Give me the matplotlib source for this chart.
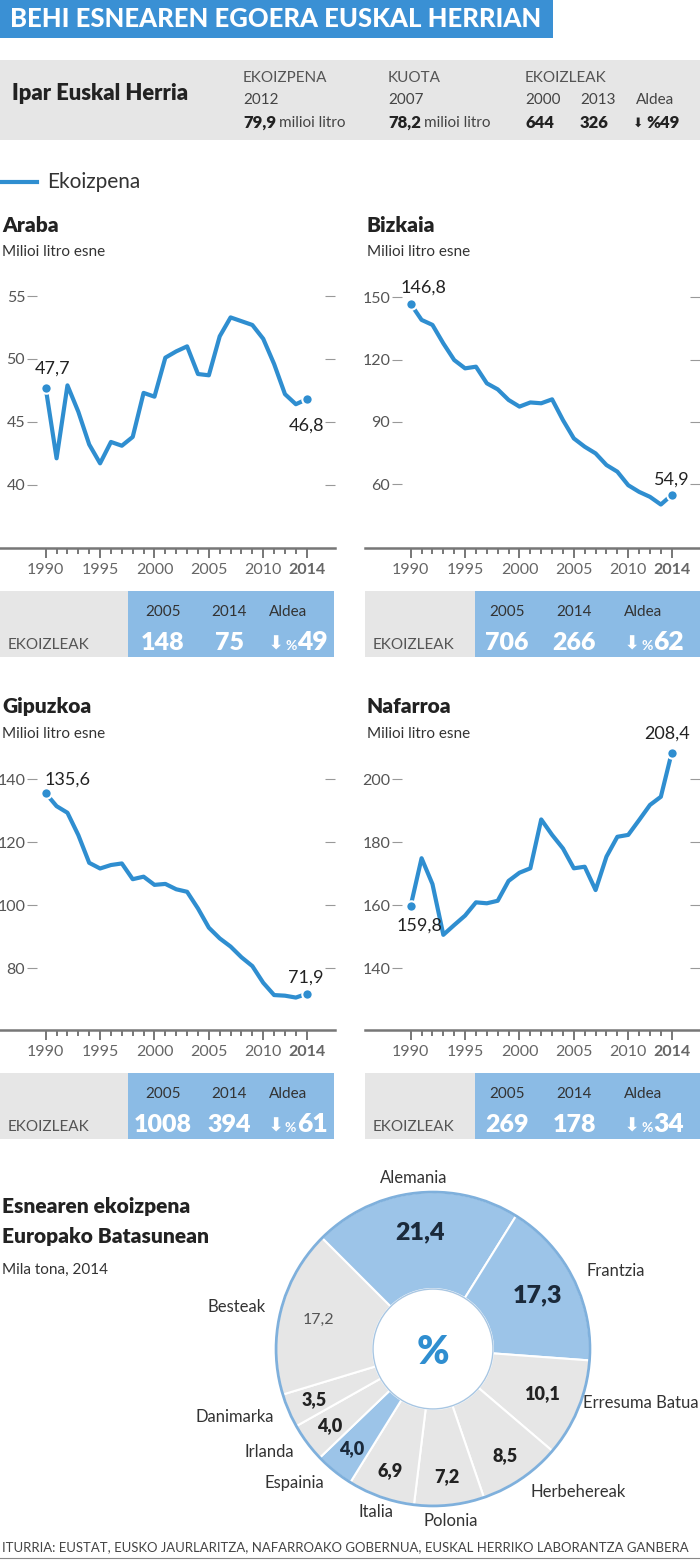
import matplotlib
matplotlib.use("Agg")
import numpy as np
import matplotlib.pyplot as plt
from matplotlib.patches import Rectangle, Circle
from matplotlib.lines import Line2D

plt.rcParams['font.family'] = ['Lato', 'DejaVu Sans']

# ---- data ----
years = list(range(1990, 2015))
araba = [47.7, 42.1, 47.9, 45.8, 43.2, 41.7, 43.4, 43.1, 43.8, 47.3, 47.0, 50.1, 50.6,
         51.0, 48.8, 48.7, 51.8, 53.3, 53.0, 52.7, 51.6, 49.6, 47.2, 46.4, 46.8]
bizkaia = [146.8, 139.1, 136.7, 127.8, 119.8, 115.8, 116.6, 108.6, 105.7, 100.6, 97.4, 99.4,
           99.0, 100.9, 90.9, 82.1, 78.1, 74.9, 69.3, 66.1, 59.6, 56.4, 54.0, 50.3, 54.9]
gipuzkoa = [135.6, 131.5, 129.4, 122.3, 113.5, 111.7, 112.8, 113.3, 108.3, 109.1, 106.5, 106.8,
            105.1, 104.3, 99.0, 92.9, 89.5, 86.9, 83.5, 80.7, 75.4, 71.5, 71.3, 70.7, 71.9]
nafarroa = [159.8, 174.9, 166.7, 150.6, 153.7, 156.7, 160.9, 160.6, 161.4, 167.7, 170.3, 171.7,
            187.2, 182.3, 178.0, 171.7, 172.2, 164.8, 175.4, 181.7, 182.3, 187.0, 191.8, 194.4, 208.4]

regions = ["Araba", "Bizkaia", "Gipuzkoa", "Nafarroa"]
yticks = [[40, 45, 50, 55], [60, 90, 120, 150], [80, 100, 120, 140], [140, 160, 180, 200]]
xticks = [1990, 1995, 2000, 2005, 2010, 2014]

farms_2005 = [148, 706, 1008, 269]
farms_2014 = [75, 266, 394, 178]
farms_drop = [49, 62, 61, 34]

# Ipar Euskal Herria
ipar_prod_2012 = 79.9
ipar_quota_2007 = 78.2
ipar_farms = [644, 326]   # 2000, 2013
ipar_drop = 49

countries = ["Alemania", "Frantzia", "Erresuma Batua", "Herbehereak", "Polonia",
             "Italia", "Espainia", "Irlanda", "Danimarka", "Besteak"]
shares = [21.4, 17.3, 10.1, 8.5, 7.2, 6.9, 4.0, 4.0, 3.5, 17.2]
highlight = [True, True, False, False, False, False, True, False, False, False]

BANNER = '#3a90d4'
LINE = '#2f8ed0'
BOX_BLUE = '#8bbbe5'
GRAY = '#e6e6e6'
PIE_BLUE = '#9cc4e8'
NAVY = '#1b2a3b'

W, H = 700, 1560
fig = plt.figure(figsize=(W / 100, H / 100), dpi=100)
R = fig.canvas.get_renderer()


def fx(x):
    return x / W


def fy(y):
    return 1 - y / H


def txt(x, y, s, size=11, color='#333', weight='normal', ha='left', va='center', **kw):
    return fig.text(fx(x), fy(y), s, fontsize=size, color=color, fontweight=weight,
                    ha=ha, va=va, **kw)


def box(x0, y0, x1, y1, color):
    fig.add_artist(Rectangle((fx(x0), fy(y1)), (x1 - x0) / W, (y1 - y0) / H,
                             transform=fig.transFigure, facecolor=color,
                             edgecolor='none', zorder=0))


def ext(t):
    return t.get_window_extent(R)


def fit(t, width):
    t.set_fontsize(t.get_fontsize() * width / ext(t).width)


def comma(v):
    return f"{v:.1f}".replace(".", ",")


# ---- header ----
box(0, 0, 553, 38, BANNER)
t = txt(10, 19, "BEHI ESNEAREN EGOERA EUSKAL HERRIAN", size=20, color='white', weight='black')
fit(t, 530)

box(0, 60, 700, 140, GRAY)
t = txt(12, 93, "Ipar Euskal Herria", size=15, color='#222', weight='heavy')
fit(t, 178)

for x, head, yr, val in [(243, "EKOIZPENA", "2012", ipar_prod_2012),
                         (388, "KUOTA", "2007", ipar_quota_2007)]:
    txt(x, 78, head, size=11, color='#555')
    txt(x, 100, yr, size=11, color='#444')
    v = txt(x, 123, comma(val), size=12, color='#222', weight='heavy')
    txt(ext(v).x1 + 3, 123, "milioi litro", size=11, color='#444')

txt(525, 78, "EKOIZLEAK", size=11, color='#555')
for x, s in [(525, "2000"), (580, "2013"), (636, "Aldea")]:
    txt(x, 100, s, size=11, color='#444')
txt(525, 123, str(ipar_farms[0]), size=12, color='#222', weight='heavy')
txt(580, 123, str(ipar_farms[1]), size=12, color='#222', weight='heavy')
a = txt(633, 123, "⬇", size=9, color='#222', family='DejaVu Sans')
txt(ext(a).x1 + 3, 123, "%" + str(ipar_drop), size=12, color='#222', weight='heavy')

# legend
fig.add_artist(Line2D([0, fx(37)], [fy(182), fy(182)], color=LINE, lw=3,
                      transform=fig.transFigure))
txt(47, 182, "Ekoizpena", size=15, color='#333')

# ---- line panels ----
series = [araba, bizkaia, gipuzkoa, nafarroa]
ylims = [(34.97, 57.07), (29.4, 163.1), (60.4, 148.7), (120.4, 208.6)]
offs = [((5, 14), (0, -19)), ((9, 12), (0, 11)), ((16, 9.5), (-1, 11.5)), ((6.5, -14), (-3, 14))]
col_layout = {0: dict(gray=(0, 128), blue_r=334, cols=(163, 229, 288), drop_r=328),
              365: dict(gray=(365, 475), blue_r=700, cols=(507, 574, 643), drop_r=684)}

for i, name in enumerate(regions):
    x0 = 0 if i % 2 == 0 else 365
    dy = 0 if i < 2 else 482
    vals = series[i]

    txt(x0 + 2, 225 + dy, name, size=15, color='#222', weight='heavy')
    txt(x0 + 2, 252 + dy, "Milioi litro esne", size=11, color='#333')

    ax = fig.add_axes([fx(x0 + 37), fy(548 + dy), 288 / W, 278 / H])
    ax.set_facecolor('none')
    for sp in ax.spines.values():
        sp.set_visible(False)
    ax.plot(years, vals, color=LINE, lw=3, solid_capstyle='butt', zorder=2)
    ax.plot([years[0], years[-1]], [vals[0], vals[-1]], 'o', color=LINE, ms=7.5,
            mec='white', mew=1.5, zorder=3, clip_on=False)
    for (yr, v), off in zip([(years[0], vals[0]), (years[-1], vals[-1])], offs[i]):
        ax.annotate(comma(v), (yr, v), xytext=off, textcoords='offset points',
                    ha='center', va='center', fontsize=13, color='#222')

    ax.set_xlim(1989.2, 2015.68)
    ax.set_ylim(*ylims[i])
    ax.set_yticks(yticks[i], labels=[str(v) for v in yticks[i]])
    ax.set_xticks(xticks, labels=[str(v) for v in xticks])
    ax.set_xticks(years, minor=True)
    ax.get_xticklabels()[-1].set_fontweight('bold')
    ax.get_xticklabels()[-1].set_color('#444')
    ax.tick_params(axis='y', which='both', left=True, right=True, length=7, width=0.8,
                   color='#999', labelsize=11.5, labelcolor='#555', pad=1.5)
    ax.tick_params(axis='x', which='major', length=7.5, width=1.4, color='#777',
                   labelsize=11.5, labelcolor='#666', pad=3)
    ax.tick_params(axis='x', which='minor', length=4, width=1.4, color='#777')
    ax.plot([-37 / 288, 298 / 288], [0, 0], color='#777', lw=1.8,
            transform=ax.transAxes, clip_on=False)

    # producers box
    lay = col_layout[x0]
    g0, g1 = lay['gray']
    box(g0, 591 + dy, g1, 657 + dy, GRAY)
    box(g1, 591 + dy, lay['blue_r'], 657 + dy, BOX_BLUE)
    txt(g0 + 8, 649 + dy, "EKOIZLEAK", size=11, color='#555', va='baseline')
    for cx, s in zip(lay['cols'], ["2005", "2014", "Aldea"]):
        txt(cx, 616 + dy, s, size=11, color='#333', ha='center', va='baseline')
    txt(lay['cols'][0], 650 + dy, str(farms_2005[i]), size=18, color='white',
        weight='heavy', ha='center', va='baseline')
    txt(lay['cols'][1], 650 + dy, str(farms_2014[i]), size=18, color='white',
        weight='heavy', ha='center', va='baseline')
    n = txt(lay['drop_r'], 650 + dy, str(farms_drop[i]), size=19, color='white',
            weight='heavy', ha='right', va='baseline')
    p = txt(ext(n).x0 - 1, 650 + dy, "%", size=10, color='white', weight='bold',
            ha='right', va='baseline')
    txt(ext(p).x0 - 1, 650 + dy, "⬇", size=14, color='white',
        ha='right', va='baseline', family='DejaVu Sans')

# ---- EU donut ----
txt(2, 1207, "Esnearen ekoizpena", size=15, color='#222', weight='heavy')
txt(2, 1236, "Europako Batasunean", size=15, color='#222', weight='heavy')
txt(2, 1270, "Mila tona, 2014", size=11, color='#333')

pax = fig.add_axes([fx(229), fy(1553), 408 / W, 408 / H])
colors = [PIE_BLUE if h else GRAY for h in highlight]
wedges, _ = pax.pie(shares, startangle=135, counterclock=False, colors=colors,
                    wedgeprops=dict(width=0.618, edgecolor='white', linewidth=1.5))
pax.set_xlim(-1.3, 1.3)
pax.set_ylim(-1.3, 1.3)
pax.set_aspect('equal')
pax.add_patch(Circle((0, 0), 1, fill=False, ec='#7fb0dc', lw=2))
pax.add_patch(Circle((0, 0), 0.382, fill=False, ec='#a8c6e2', lw=1))

for w, name, v, h in zip(wedges, countries, shares, highlight):
    a = np.deg2rad((w.theta1 + w.theta2) / 2)
    c, s = np.cos(a), np.sin(a)
    ha = 'left' if c > 0.35 else ('right' if c < -0.35 else 'center')
    lab = pax.text(1.1 * c, 1.1 * s, name, ha=ha, va='center', fontsize=12, color='#333')
    over = ext(lab).x1 - (W - 1)
    if over > 0:
        # keep the label inside the figure, nudging it up along the rim
        px, py = pax.transData.transform((1.1 * c, 1.1 * s))
        lab.set_position(pax.transData.inverted().transform((px - over, py + 12)))
    r = 0.75 if v > 10 else 0.82
    if name == "Besteak":
        kw = dict(fontsize=11.5, color='#555')
    elif v > 15:
        kw = dict(fontsize=18, color=NAVY, fontweight='heavy')
    else:
        kw = dict(fontsize=13, color=NAVY if h else '#222', fontweight='heavy')
    pax.text(r * c, r * s, comma(v), ha='center', va='center', **kw)

pax.text(0, -0.02, "%", ha='center', va='center', fontsize=28, color=LINE, fontweight='heavy')

# ---- footer ----
t = txt(2, 1547, "ITURRIA: EUSTAT, EUSKO JAURLARITZA, NAFARROAKO GOBERNUA, "
        "EUSKAL HERRIKO LABORANTZA GANBERA", size=9, color='#444')
fit(t, 686)
fig.add_artist(Line2D([0, 1], [fy(1558), fy(1558)], color='#888', lw=0.8,
                      transform=fig.transFigure))

fig.savefig("out.png", dpi=100)
